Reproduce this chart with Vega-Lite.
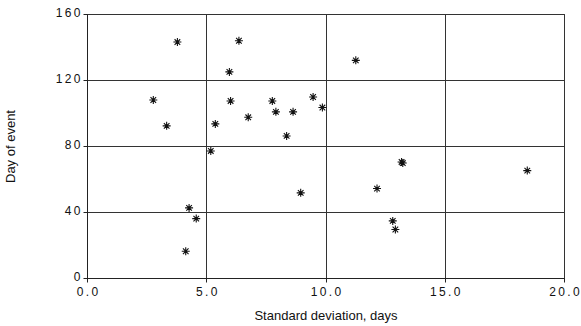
{
  "$schema": "https://vega.github.io/schema/vega-lite/v6.json",
  "width": 477,
  "height": 264,
  "autosize": {"type": "none"},
  "padding": {"left": 87, "top": 14, "right": 17, "bottom": 48},
  "background": "white",
  "config": {
    "view": {"stroke": "#222", "strokeWidth": 1},
    "font": "Liberation Sans"
  },
  "data": {
    "values": [
      {"sd": 3.79, "day": 143.0},
      {"sd": 6.37, "day": 143.8},
      {"sd": 5.97, "day": 124.9},
      {"sd": 2.78, "day": 107.9},
      {"sd": 3.34, "day": 92.2},
      {"sd": 6.02, "day": 107.3},
      {"sd": 7.77, "day": 107.3},
      {"sd": 7.92, "day": 100.7},
      {"sd": 6.76, "day": 97.4},
      {"sd": 5.38, "day": 93.4},
      {"sd": 5.19, "day": 77.0},
      {"sd": 4.28, "day": 42.5},
      {"sd": 4.58, "day": 36.0},
      {"sd": 4.14, "day": 16.2},
      {"sd": 11.27, "day": 131.9},
      {"sd": 8.64, "day": 100.7},
      {"sd": 9.48, "day": 109.7},
      {"sd": 9.87, "day": 103.3},
      {"sd": 8.37, "day": 86.1},
      {"sd": 8.96, "day": 51.6},
      {"sd": 13.19, "day": 70.3},
      {"sd": 13.24, "day": 69.7},
      {"sd": 12.16, "day": 54.2},
      {"sd": 12.82, "day": 34.6},
      {"sd": 12.93, "day": 29.4},
      {"sd": 18.46, "day": 65.1}
    ]
  },
  "mark": {
    "type": "point",
    "shape": "M -1 0 L 1 0 M 0 -1 L 0 1 M -0.7 -0.7 L 0.7 0.7 M -0.7 0.7 L 0.7 -0.7",
    "filled": false,
    "stroke": "#111",
    "strokeWidth": 1.1,
    "size": 64,
    "opacity": 1
  },
  "encoding": {
    "x": {
      "field": "sd",
      "type": "quantitative",
      "scale": {"domain": [0, 20], "nice": false},
      "axis": {
        "values": [0, 5, 10, 15, 20],
        "labelExpr": "replace(format(datum.value, '.1f'), regexp('(.)(?!$)', 'g'), '$1\u2009')",
        "title": "Standard deviation, days",
        "titleFont": "Liberation Sans",
        "titleFontWeight": "normal",
        "titleFontSize": 13,
        "titleColor": "#111",
        "titlePadding": 12,
        "labelFont": "Liberation Sans",
        "labelFontSize": 12,
        "labelColor": "#111",
        "labelPadding": 4,
        "grid": true,
        "gridColor": "#333",
        "gridWidth": 1,
        "gridOpacity": 1,
        "domainColor": "#222",
        "tickColor": "#222",
        "tickSize": 4,
        "labelFlush": false
      }
    },
    "y": {
      "field": "day",
      "type": "quantitative",
      "scale": {"domain": [0, 160], "nice": false},
      "axis": {
        "values": [0, 40, 80, 120, 160],
        "labelExpr": "replace(format(datum.value, 'd'), regexp('(.)(?!$)', 'g'), '$1\u2009')",
        "title": "Day of event",
        "titleFont": "Liberation Sans",
        "titleFontWeight": "normal",
        "titleFontSize": 13,
        "titleColor": "#111",
        "titlePadding": 38,
        "labelFont": "Liberation Sans",
        "labelFontSize": 12,
        "labelColor": "#111",
        "labelPadding": 3,
        "labelOffset": -2,
        "grid": true,
        "gridColor": "#333",
        "gridWidth": 1,
        "gridOpacity": 1,
        "domainColor": "#222",
        "tickColor": "#222",
        "tickSize": 4,
        "labelFlush": false
      }
    }
  }
}
